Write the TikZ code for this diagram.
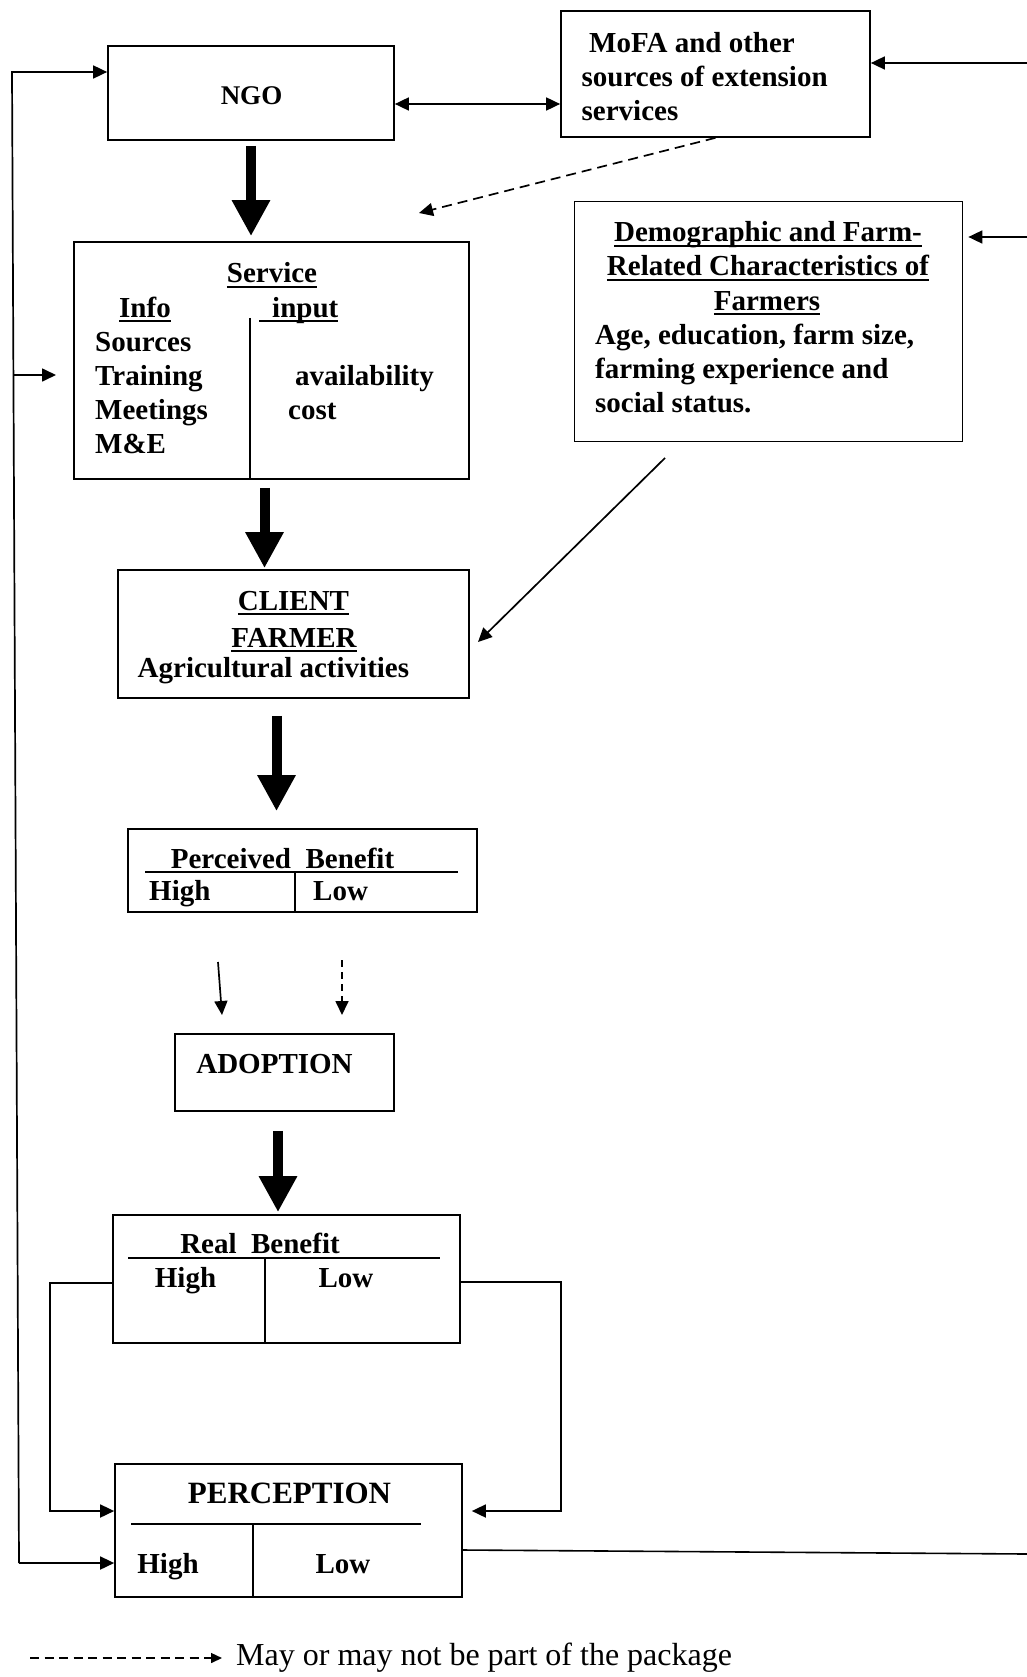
\documentclass[tikz,border=0pt]{standalone}
\usepackage{fontspec}
\setmainfont{Liberation Serif}
\usetikzlibrary{arrows.meta}

\newsavebox\ulbox
\newcommand{\undl}[1]{\sbox\ulbox{#1}\rlap{\rule[-5pt]{\wd\ulbox}{2pt}}\usebox\ulbox}

\begin{document}
\begin{tikzpicture}[x=1pt,y=-1pt,
  box/.style={draw, line width=1.7pt, inner sep=0pt},
  lbl/.style={font=\fontsize{29}{34}\selectfont\bfseries, inner sep=0pt, anchor=base},
  lbll/.style={lbl, anchor=base west},
  rule/.style={line width=1.6pt},
  bigarr/.style={line width=10pt, -{Triangle[length=36pt,width=36pt]}},
  tarr/.style={line width=1.7pt, -{Triangle[length=14pt,width=13pt]}},
  darr/.style={tarr, dash pattern=on 10pt off 6pt}]

\useasboundingbox (0,0) rectangle (1027,1677);

% boxes
\node[box, minimum width=286pt, minimum height=94pt] (ngo) at (251,93) {};
\node[box, minimum width=309pt, minimum height=126pt] (mofa) at (715.5,74) {};
\node[box, minimum width=395pt, minimum height=237pt] (service) at (271.5,360.5) {};
\node[box, minimum width=388pt, minimum height=240pt] (demo) at (768.5,321.5) {};
\node[box, minimum width=351pt, minimum height=128pt] (client) at (293.5,634) {};
\node[box, minimum width=349pt, minimum height=83pt] (perc) at (302.5,870.5) {};
\node[box, minimum width=219pt, minimum height=77pt] (adopt) at (284.5,1072.5) {};
\node[box, minimum width=347pt, minimum height=128pt] (real) at (286.5,1279) {};
\node[box, minimum width=347pt, minimum height=133pt] (percep) at (288.5,1530.5) {};

% texts
\node[lbl, font=\fontsize{27}{34}\selectfont\bfseries] (ngotxt) at (251.5,105) {NGO};
\node[lbll] (mofa1) at (589,53) {MoFA and other};
\node[lbll] (mofa2) at (581.5,87) {sources of extension};
\node[lbll] (mofa3) at (581.5,121) {services};

\node[lbl] (srvhd) at (272,283) {\undl{Service}};
\node[lbl] (srvinfo) at (145,317) {\undl{Info}};
\node[lbll] (srvinput) at (259,317) {\undl{\hspace{13pt}input}};
\node[lbll] (srv1) at (95,351) {Sources};
\node[lbll] (srv2) at (95,385) {Training};
\node[lbll] (srv3) at (95,419) {Meetings};
\node[lbll] (srv4) at (95,453) {M\&E};
\node[lbll] (srv5) at (295,385) {availability};
\node[lbll] (srv6) at (288,419) {cost};
\draw[rule] (250,318) -- (250,479);

\node[lbl] (dm1) at (768,242) {\undl{Demographic and Farm-}};
\node[lbl] (dm2) at (768,276) {\undl{Related Characteristics of}};
\node[lbl] (dm3) at (767,310) {\undl{Farmers}};
\node[lbll] (dm4) at (595,344) {Age, education, farm size,};
\node[lbll] (dm5) at (595,378) {farming experience and};
\node[lbll] (dm6) at (595,412) {social status.};

\node[lbl] (cl1) at (293.5,610) {\undl{CLIENT}};
\node[lbl] (cl2) at (294,647) {\undl{FARMER}};
\node[lbll] (cl3) at (137.5,677) {Agricultural activities};

\node[lbl] (pbhd) at (282.5,868) {Perceived\ \ Benefit};
\node[lbll] (pbhi) at (149,900) {High};
\node[lbll] (pblo) at (313,900) {Low};
\draw[rule] (145,872) -- (458,872);
\draw[rule] (295,872) -- (295,912);

\node[lbl] (adtxt) at (274.5,1073) {ADOPTION};

\node[lbl] (rbhd) at (260,1253) {Real\ \ Benefit};
\node[lbl] (rbhi) at (185.5,1287) {High};
\node[lbl] (rblo) at (346,1287) {Low};
\draw[rule] (128,1258) -- (440,1258);
\draw[rule] (265,1258) -- (265,1343);

\node[lbl, font=\fontsize{31}{34}\selectfont\bfseries] (pchd) at (289.5,1503) {PERCEPTION};
\node[lbl] (pchi) at (168,1573) {High};
\node[lbl] (pclo) at (343,1573) {Low};
\draw[rule] (131,1524) -- (421,1524);
\draw[rule] (253,1524) -- (253,1597);

% main flow
\draw[bigarr, shorten <=5pt, shorten >=5pt] (ngo.south) -- (ngo.south |- service.north);
\path ([xshift=-7pt]service.south) coordinate (s2);
\draw[bigarr, shorten <=8pt, shorten >=1pt] (s2) -- (s2 |- client.north);
\path ([xshift=-17pt]client.south) coordinate (c2);
\draw[bigarr, shorten <=17pt, shorten >=17pt] (c2) -- (c2 |- perc.north);
\path ([xshift=-6.5pt]adopt.south) coordinate (a2);
\draw[bigarr, shorten <=19pt, shorten >=2pt] (a2) -- (a2 |- real.north);

% perceived benefit to adoption
\coordinate (hiout) at (218,962);
\coordinate (hiin) at (222,1015);
\coordinate (loout) at (342,960);
\coordinate (loin) at (342,1015);
\draw[tarr] (hiout) -- (hiin);
\draw[tarr, dash pattern=on 7pt off 5pt] (loout) -- (loin);

% ngo and mofa
\path ([yshift=-11pt]ngo.east) coordinate (nm);
\draw[tarr, {Triangle[length=14pt,width=13pt]}-{Triangle[length=14pt,width=13pt]}] (nm) -- (nm -| mofa.west);
\coordinate (dashend) at (419,213);
\draw[darr] (mofa.south) -- (dashend);

% characteristics to client
\coordinate (dmout) at (665,458);
\coordinate (clin) at (478,642);
\draw[tarr] (dmout) -- (clin);

% real benefit to perception
\path ([yshift=-4pt]real.west) coordinate (rlw);
\path ([yshift=19.5pt]percep.west) coordinate (plw);
\draw[tarr] (rlw) -- ++(-62,0) |- (plw);
\path ([yshift=-3pt]real.east) coordinate (rle);
\path ([xshift=9pt,yshift=19.5pt]percep.east) coordinate (ple);
\draw[tarr] (rle) -- ++(100,0) |- (ple);

% feedback left
\coordinate (fbtop) at (12,72);
\coordinate (fbbot) at (19,1563);
\coordinate (fbsrv) at (13.5,375);
\coordinate (fbsrvend) at (56,375);
\draw[tarr] (fbbot) -- (fbtop) -- (fbtop -| ngo.west);
\draw[tarr] (fbsrv) -- (fbsrvend);
\draw[tarr] (fbbot) -- (fbbot -| percep.west);

% feedback right
\coordinate (rtop) at (1027,63);
\coordinate (rdemo) at (1027,237);
\coordinate (rbot) at (1027,1554);
\draw[tarr] (rtop) -- (rtop -| mofa.east);
\draw[tarr, shorten >=5pt] (rdemo) -- (rdemo -| demo.east);
\path ([yshift=-19.5pt]percep.east) coordinate (pre);
\draw[rule] (pre) -- (rbot);

% legend
\coordinate (lgs) at (30,1658);
\coordinate (lge) at (222,1658);
\draw[line width=1.5pt, -{Triangle[length=11pt,width=10pt]}, dash pattern=on 9pt off 5.5pt] (lgs) -- (lge);
\node[anchor=base west, inner sep=0pt, font=\fontsize{32}{38}\selectfont] (lgtxt) at (236,1665) {May or may not be part of the package};
\end{tikzpicture}
\end{document}
